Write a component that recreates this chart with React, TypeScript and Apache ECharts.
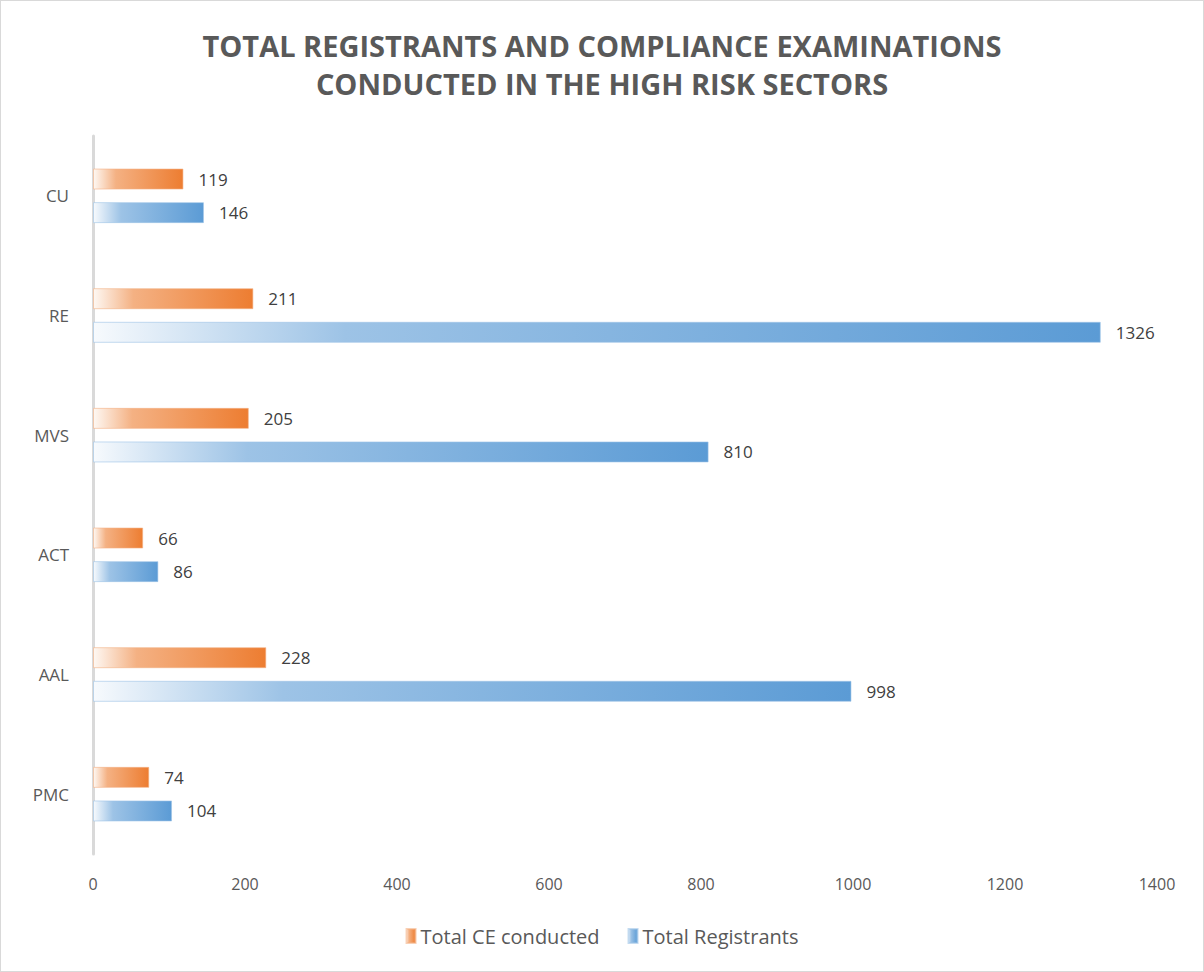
import React, { useEffect, useRef } from "react";
import * as echarts from "echarts";

const categories = ["CU", "RE", "MVS", "ACT", "AAL", "PMC"];
const ceConducted = [119, 211, 205, 66, 228, 74];
const registrants = [146, 1326, 810, 86, 998, 104];
const titleText = "TOTAL REGISTRANTS AND COMPLIANCE EXAMINATIONS\nCONDUCTED IN THE HIGH RISK SECTORS";
const seriesNames = ["Total CE conducted", "Total Registrants"];

const grad = (c0: string, cm: string, c1: string) =>
  new echarts.graphic.LinearGradient(0, 0, 1, 0, [
    { offset: 0, color: c0 },
    { offset: 0.25, color: cm },
    { offset: 1, color: c1 },
  ]);

export default function App() {
  const ref = useRef<HTMLDivElement>(null);
  useEffect(() => {
    if (!ref.current) return;
    const chart = echarts.init(ref.current, null, { renderer: "svg" });
    const font = "'Open Sans', 'Noto Sans', sans-serif";
    const labelStyle = {
      show: true,
      position: "right" as const,
      distance: 15,
      color: "#404040",
      fontSize: 17,
      fontFamily: font,
    };
    chart.setOption({
      animation: false,
      backgroundColor: "#ffffff",
      title: {
        text: titleText,
        left: "center",
        top: 20,
        textStyle: {
          color: "#595959",
          fontSize: 29,
          fontWeight: "bold",
          fontFamily: font,
          lineHeight: 38,
        },
      },
      legend: {
        bottom: 20,
        left: "center",
        itemWidth: 9,
        itemHeight: 14,
        itemGap: 28,
        icon: "rect",
        textStyle: { color: "#595959", fontSize: 20, fontFamily: font },
        data: seriesNames,
      },
      grid: { left: 92, right: 46, top: 135, bottom: 117, containLabel: false },
      xAxis: {
        type: "value",
        min: 0,
        max: 1400,
        interval: 200,
        axisLine: { show: false },
        axisTick: { show: false },
        splitLine: { show: false },
        axisLabel: {
          color: "#595959",
          fontSize: 16,
          fontFamily: font,
          margin: 22,
          formatter: (v: number) => String(v),
        },
      },
      yAxis: {
        type: "category",
        data: categories,
        inverse: true,
        axisLine: { show: true, lineStyle: { color: "#d9d9d9", width: 3 } },
        axisTick: { show: false },
        axisLabel: { color: "#595959", fontSize: 17, fontFamily: font, margin: 24 },
      },
      series: [
        {
          name: seriesNames[0],
          type: "bar",
          data: ceConducted,
          barWidth: 21,
          barGap: "60%",
          itemStyle: {
            color: grad("#fef8f3", "#f4b183", "#ED7D31"),
            borderColor: "rgba(244,177,131,0.6)",
            borderWidth: 1,
          },
          label: labelStyle,
        },
        {
          name: seriesNames[1],
          type: "bar",
          data: registrants,
          barWidth: 21,
          barGap: "60%",
          itemStyle: {
            color: grad("#f7fafd", "#9dc3e6", "#5B9BD5"),
            borderColor: "rgba(157,195,230,0.6)",
            borderWidth: 1,
          },
          label: labelStyle,
        },
      ],
    });
    return () => chart.dispose();
  }, []);
  return (
    <div
      style={{
        position: "fixed",
        left: 0,
        top: 0,
        width: 1204,
        height: 972,
        boxSizing: "border-box",
        border: "1px solid #d9d9d9",
        background: "#fff",
      }}
    >
      <div ref={ref} style={{ width: "100%", height: "100%" }} />
    </div>
  );
}
